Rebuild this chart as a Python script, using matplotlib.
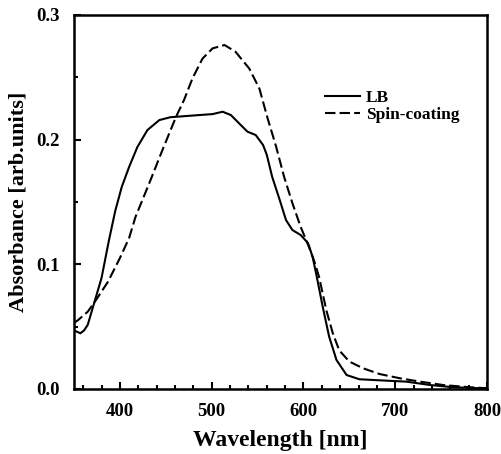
import numpy as np
import matplotlib
matplotlib.use("Agg")
import matplotlib.pyplot as plt
from matplotlib.ticker import MultipleLocator

# LB film
lb_wl = [350, 353, 357, 361, 365, 372, 380, 388, 395, 402, 410, 419, 430, 443, 455,
         468, 486, 501, 512, 521, 530, 539, 548, 556, 560, 566, 574, 581, 588, 597,
         605, 610, 614, 621, 628, 636, 647, 661, 690, 712, 738, 763, 792, 800]
lb_abs = [0.047, 0.046, 0.0447, 0.047, 0.0515, 0.069, 0.089, 0.119, 0.143, 0.162, 0.178,
          0.194, 0.2077, 0.2157, 0.218, 0.2187, 0.2197, 0.2205, 0.2224, 0.2197, 0.213,
          0.2064, 0.2037, 0.1957, 0.188, 0.170, 0.152, 0.1355, 0.1275, 0.1235, 0.117,
          0.106, 0.092, 0.066, 0.042, 0.0233, 0.0112, 0.0078, 0.0067, 0.0059, 0.0032,
          0.0014, 0.0006, 0.0005]

# spin-coated film
sc_wl = [350, 354, 365, 374, 387, 400, 410, 417, 432, 446, 461, 470, 479, 490, 501,
         514, 526, 541, 552, 561, 570, 579, 588, 597, 606, 612, 617, 625, 632, 639,
         650, 665, 683, 705, 727, 752, 781, 800]
sc_abs = [0.053, 0.055, 0.062, 0.0714, 0.086, 0.105, 0.121, 0.138, 0.165, 0.191, 0.218,
          0.232, 0.249, 0.265, 0.2732, 0.2759, 0.2705, 0.257, 0.241, 0.217, 0.195,
          0.170, 0.149, 0.130, 0.114, 0.102, 0.090, 0.063, 0.0447, 0.031, 0.022,
          0.0166, 0.012, 0.0086, 0.0059, 0.0032, 0.0014, 0.0006]

plt.rcParams['font.family'] = 'Liberation Serif'
plt.rcParams['font.weight'] = 'bold'

fig = plt.figure(figsize=(5.02, 4.54), dpi=100)
ax = fig.add_axes([0.1474, 0.1432, 0.8227, 0.8238])

ax.plot(lb_wl, lb_abs, color='black', lw=1.5, label='LB')
ax.plot(sc_wl, sc_abs, color='black', lw=1.5, dashes=(5, 2), label='Spin-coating')

ax.set_xlim(350, 800)
ax.set_ylim(0, 0.3)
ax.xaxis.set_major_locator(MultipleLocator(100))
ax.xaxis.set_minor_locator(MultipleLocator(20))
ax.yaxis.set_major_locator(MultipleLocator(0.1))
ax.yaxis.set_minor_locator(MultipleLocator(0.05))
ax.yaxis.set_major_formatter(matplotlib.ticker.FormatStrFormatter('%.1f'))

ax.tick_params(which='both', direction='in', top=False, right=False, width=1.5)
ax.tick_params(which='major', length=5, labelsize=13.5, pad=10)
ax.tick_params(which='minor', length=3)
for s in ax.spines.values():
    s.set_linewidth(1.8)

ax.set_xlabel('Wavelength [nm]', fontsize=17, fontweight='bold', labelpad=7)
ax.set_ylabel('Absorbance [arb.units]', fontsize=16, fontweight='bold', labelpad=6)

ax.legend(loc='upper left', bbox_to_anchor=(0.608, 0.799), frameon=False,
          handlelength=2.0, handletextpad=0.35, labelspacing=0.05,
          borderpad=0, borderaxespad=0, prop={'weight': 'bold', 'size': 12.5})

fig.savefig('out.png', dpi=100)
